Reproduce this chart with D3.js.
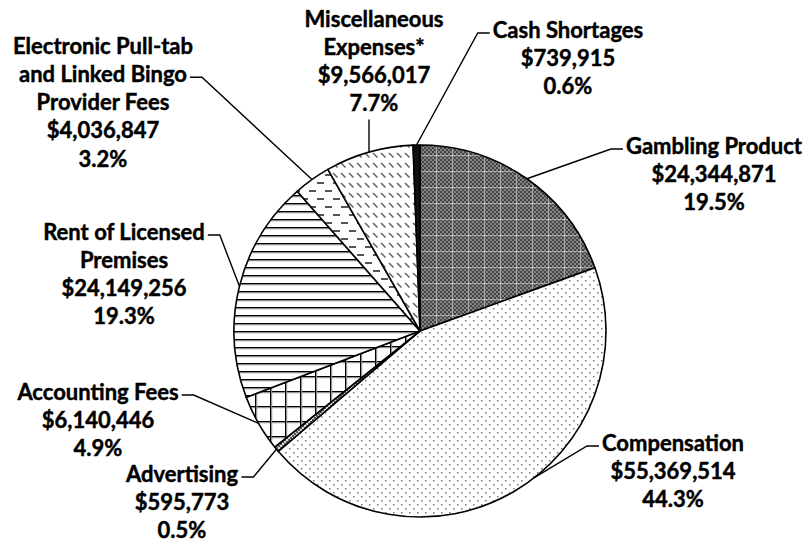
<!DOCTYPE html>
<html>
<head>
<meta charset="utf-8">
<script src="https://cdn.jsdelivr.net/npm/d3@7"></script>
<style>
  body { margin: 0; background: #fff; }
  text { font-family: Lato, "Open Sans", sans-serif; font-weight: bold; fill: #000;
         stroke: #000; stroke-width: 0.45px; }
</style>
</head>
<body>
<svg id="chart" width="809" height="542"></svg>
<script>
// slices, clockwise from 12 o'clock
var categories = ["Gambling Product", "Compensation", "Advertising", "Accounting Fees",
    "Rent of Licensed Premises", "Electronic Pull-tab and Linked Bingo Provider Fees",
    "Miscellaneous Expenses*", "Cash Shortages"];
var amounts = [24344871, 55369514, 595773, 6140446, 24149256, 4036847, 9566017, 739915];
// how each label is broken into lines (name part only)
var labelLines = [
    ["Gambling Product"],
    ["Compensation"],
    ["Advertising"],
    ["Accounting Fees"],
    ["Rent of Licensed", "Premises"],
    ["Electronic Pull-tab", "and Linked Bingo", "Provider Fees"],
    ["Miscellaneous", "Expenses*"],
    ["Cash Shortages"]
];

const width = 809, height = 542;
const cx = 420, cy = 331, radius = 186;
const lineH = 28.3;

// label placement: centre x, first line y, which line the leader hooks on, and side
var labelPos = [
    { x: 714, y: 145, hook: 0, side: "left" },
    { x: 673, y: 442, hook: 0, side: "left", shift: -8 },
    { x: 182, y: 473, hook: 0, side: "right" },
    { x: 98,  y: 391, hook: 0, side: "right" },
    { x: 124, y: 231, hook: 0, side: "right" },
    { x: 103, y: 45,  hook: 1, side: "right" },
    { x: 374, y: 18,  hook: 3, side: "below" },
    { x: 568, y: 29,  hook: 0, side: "left" }
];

const svg = d3.select("#chart");
svg.append("rect").attr("width", width).attr("height", height).attr("fill", "#fff");

const defs = svg.append("defs");

// gambling product: fine gray checker with a lighter grid
let p = defs.append("pattern").attr("id", "pGamb").attr("patternUnits", "userSpaceOnUse")
    .attr("width", 16).attr("height", 16);
p.append("rect").attr("width", 16).attr("height", 16).attr("fill", "#858585");
for (let i = 0; i < 8; i++) {
    for (let j = 0; j < 8; j++) {
        if ((i + j) % 2 === 0) {
            p.append("rect").attr("x", i * 2).attr("y", j * 2).attr("width", 2).attr("height", 2).attr("fill", "#444");
        }
    }
}
p.append("rect").attr("x", 0).attr("y", 0).attr("width", 16).attr("height", 1).attr("fill", "#a8a8a8");
p.append("rect").attr("x", 0).attr("y", 0).attr("width", 1).attr("height", 16).attr("fill", "#a8a8a8");
p.append("rect").attr("x", 0).attr("y", 0).attr("width", 1).attr("height", 1).attr("fill", "#fff");

// compensation: sparse staggered dots
p = defs.append("pattern").attr("id", "pComp").attr("patternUnits", "userSpaceOnUse")
    .attr("width", 8).attr("height", 8);
p.append("rect").attr("width", 8).attr("height", 8).attr("fill", "#fff");
p.append("rect").attr("x", 1).attr("y", 1).attr("width", 1.5).attr("height", 1.5).attr("fill", "#777");
p.append("rect").attr("x", 5).attr("y", 5).attr("width", 1.5).attr("height", 1.5).attr("fill", "#777");

// advertising: small gray checker
p = defs.append("pattern").attr("id", "pAdv").attr("patternUnits", "userSpaceOnUse")
    .attr("width", 4).attr("height", 4);
p.append("rect").attr("width", 4).attr("height", 4).attr("fill", "#ddd");
p.append("rect").attr("width", 2).attr("height", 2).attr("fill", "#555");
p.append("rect").attr("x", 2).attr("y", 2).attr("width", 2).attr("height", 2).attr("fill", "#555");

// accounting: large grid
p = defs.append("pattern").attr("id", "pAcct").attr("patternUnits", "userSpaceOnUse")
    .attr("width", 15).attr("height", 15);
p.append("rect").attr("width", 15).attr("height", 15).attr("fill", "#fff");
p.append("rect").attr("x", 0).attr("y", 0).attr("width", 15).attr("height", 1.2).attr("fill", "#000");
p.append("rect").attr("x", 0).attr("y", 1.2).attr("width", 15).attr("height", 1).attr("fill", "#888");
p.append("rect").attr("x", 0).attr("y", 0).attr("width", 1.2).attr("height", 15).attr("fill", "#000");
p.append("rect").attr("x", 1.2).attr("y", 0).attr("width", 1).attr("height", 15).attr("fill", "#888");

// rent: horizontal stripes
p = defs.append("pattern").attr("id", "pRent").attr("patternUnits", "userSpaceOnUse")
    .attr("width", 8).attr("height", 8);
p.append("rect").attr("width", 8).attr("height", 8).attr("fill", "#fff");
p.append("rect").attr("y", 0).attr("width", 8).attr("height", 1.2).attr("fill", "#000");
p.append("rect").attr("y", 1.2).attr("width", 8).attr("height", 1).attr("fill", "#777");

// electronic: staggered horizontal dashes
p = defs.append("pattern").attr("id", "pElec").attr("patternUnits", "userSpaceOnUse")
    .attr("width", 16).attr("height", 16);
p.append("rect").attr("width", 16).attr("height", 16).attr("fill", "#fff");
p.append("rect").attr("x", 1).attr("y", 3).attr("width", 7).attr("height", 2).attr("fill", "#555");
p.append("rect").attr("x", 9).attr("y", 11).attr("width", 7).attr("height", 2).attr("fill", "#555");

// miscellaneous: short downward diagonal dashes
p = defs.append("pattern").attr("id", "pMisc").attr("patternUnits", "userSpaceOnUse")
    .attr("width", 8).attr("height", 10);
p.append("rect").attr("width", 8).attr("height", 10).attr("fill", "#fff");
p.append("line").attr("x1", 1).attr("y1", 2).attr("x2", 5.5).attr("y2", 6.5)
    .attr("stroke", "#666").attr("stroke-width", 1.6);

var fills = ["url(#pGamb)", "url(#pComp)", "url(#pAdv)", "url(#pAcct)",
    "url(#pRent)", "url(#pElec)", "url(#pMisc)", "#111"];

const total = d3.sum(amounts);
const fmtMoney = d3.format("$,");
const fmtPct = d3.format(".1%");

const pie = d3.pie().sort(null).value(d => d)(amounts);
const arc = d3.arc().innerRadius(0).outerRadius(radius);

const g = svg.append("g").attr("transform", `translate(${cx},${cy})`);

g.selectAll("path.slice")
    .data(pie)
    .enter().append("path")
    .attr("class", "slice")
    .attr("d", arc)
    .attr("fill", (d, i) => fills[i])
    .attr("stroke", "#000")
    .attr("stroke-width", 1.6)
    .attr("stroke-linejoin", "round");

// labels
const labels = svg.append("g");
const leaders = svg.append("g");

pie.forEach(function(d, i) {
    const pos = labelPos[i];
    const lines = labelLines[i].concat([fmtMoney(amounts[i]), fmtPct(amounts[i] / total)]);
    const t = labels.append("g");
    const nodes = lines.map(function(s, k) {
        return t.append("text")
            .attr("x", pos.x)
            .attr("y", pos.y + k * lineH)
            .attr("text-anchor", "middle")
            .attr("dominant-baseline", "central")
            .style("font-size", "22px")
            .text(s);
    });

    // leader line
    const box = nodes[pos.hook].node().getBBox();
    const ang = (d.startAngle + d.endAngle) / 2 + ((pos.shift || 0) * Math.PI / 180);
    const ax = cx + Math.sin(ang) * radius;
    const ay = cy - Math.cos(ang) * radius;
    let pts;
    if (pos.side === "below") {
        pts = [[ax, box.y + box.height + 3], [ax, ay]];
    } else {
        const hy = box.y + box.height / 2 + 4;
        const x0 = pos.side === "left" ? box.x - 3 : box.x + box.width + 3;
        const x1 = pos.side === "left" ? x0 - 12 : x0 + 12;
        pts = [[x0, hy], [x1, hy], [ax, ay]];
    }
    leaders.append("path")
        .attr("d", d3.line()(pts))
        .attr("fill", "none")
        .attr("stroke", "#000")
        .attr("stroke-width", 1.4);
});
</script>
</body>
</html>
